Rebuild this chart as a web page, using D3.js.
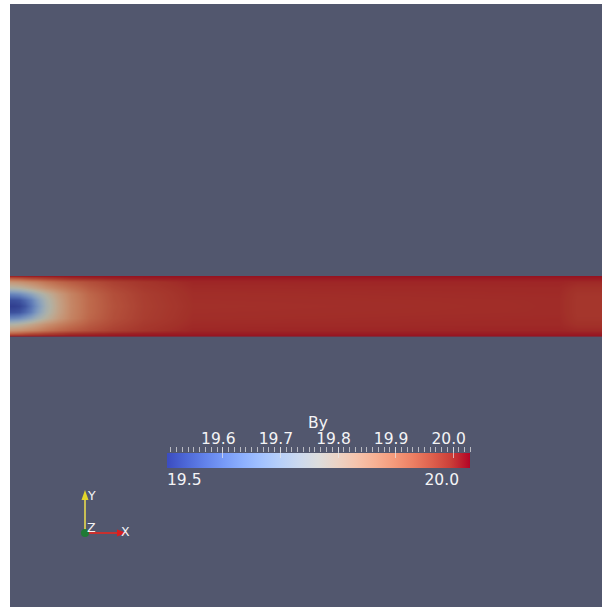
<!DOCTYPE html>
<html>
<head>
<meta charset="utf-8">
<script src="https://cdn.jsdelivr.net/npm/d3@7"></script>
<style>
  html, body { margin: 0; padding: 0; background: #ffffff; }
  svg { display: block; }
  text { font-family: "DejaVu Sans", sans-serif; fill: #f4f4f6; }
</style>
</head>
<body>
<svg id="chart" width="602" height="607"></svg>
<script>
// Channel coordinates: x along the channel (in channel widths), y across it (0 = top wall, 1 = bottom wall)
const fieldX = [0, 0.08, 0.16, 0.25, 0.35, 0.45, 0.6, 0.8, 1.0, 1.3, 1.7, 2.2, 3, 9.0, 9.3, 9.7];
const fieldY = [0, 0.05, 0.1, 0.2, 0.3, 0.4, 0.5, 0.6, 0.7, 0.8, 0.9, 0.95, 1];

// By sampled on the fieldY x fieldX grid (one row per fieldY entry)
const byWall   = [20.02, 20.02, 20.02, 20.02, 20.02, 20.02, 20.02, 20.02, 20.02, 20.02, 20.02, 20.02, 20.02, 20.02, 20.02, 20.02];
const byNear   = [19.93, 19.935, 19.94, 19.95, 19.96, 19.965, 19.975, 19.985, 19.995, 20.0, 20.006, 20.01, 20.012, 20.012, 20.012, 20.012];
const byRow010 = [19.85, 19.855, 19.86, 19.87, 19.88, 19.89, 19.91, 19.93, 19.945, 19.962, 19.98, 19.993, 20.005, 20.006, 20.003, 20.003];
const byRow020 = [19.76, 19.765, 19.775, 19.79, 19.81, 19.83, 19.86, 19.89, 19.915, 19.945, 19.97, 19.988, 20.002, 20.003, 19.997, 19.997];
const byRow030 = [19.62, 19.625, 19.635, 19.66, 19.69, 19.73, 19.78, 19.84, 19.885, 19.93, 19.962, 19.983, 20.0, 20.002, 19.993, 19.993];
const byRow040 = [19.53, 19.532, 19.54, 19.57, 19.61, 19.67, 19.75, 19.825, 19.88, 19.925, 19.96, 19.982, 19.999, 20.001, 19.992, 19.992];
const byMid    = [19.505, 19.508, 19.515, 19.54, 19.59, 19.65, 19.74, 19.82, 19.878, 19.925, 19.958, 19.981, 19.998, 20.001, 19.992, 19.992];
const fieldBy = [byWall, byNear, byRow010, byRow020, byRow030, byRow040, byMid,
                 byRow040, byRow030, byRow020, byRow010, byNear, byWall];

// Colour legend
const legendTitle = "By";
const legendRange = [19.504, 20.03];
const legendTicks = [19.6, 19.7, 19.8, 19.9, 20.0];
const legendRangeLabels = ["19.5", "20.0"];

// Cool-to-warm diverging map (position in [0,1] -> rgb)
const coolWarmPos = [0, 0.0625, 0.125, 0.1875, 0.25, 0.3125, 0.375, 0.4375, 0.5,
                     0.5625, 0.625, 0.6875, 0.75, 0.8125, 0.875, 0.9375, 1];
const coolWarmRGB = ["rgb(59,76,192)", "rgb(77,104,215)", "rgb(98,130,234)", "rgb(119,154,247)",
                     "rgb(141,176,254)", "rgb(163,194,255)", "rgb(184,208,249)", "rgb(204,217,238)",
                     "rgb(221,221,221)", "rgb(236,211,197)", "rgb(245,196,173)", "rgb(247,177,148)",
                     "rgb(244,154,123)", "rgb(236,127,99)", "rgb(222,96,77)", "rgb(203,62,56)",
                     "rgb(180,4,38)"];

const W = 602, H = 607;
const svg = d3.select("#chart");

// view background
svg.append("rect").attr("x", 10).attr("y", 4).attr("width", W - 10).attr("height", H - 4)
  .attr("fill", "#52576e");

const valueToT = d3.scaleLinear().domain(legendRange).range([0, 1]).clamp(true);
const tToColor = d3.scaleLinear().domain(coolWarmPos).range(coolWarmRGB).interpolate(d3.interpolateRgb);
const colorOf = v => tToColor(valueToT(v));

// ---- channel surface ----
const xScale = d3.scaleLinear().domain([0, 9.7]).range([10, 602]);
const yScale = d3.scaleLinear().domain([0, 1]).range([276, 336.6]);

const px0 = Math.round(xScale.range()[0]), px1 = Math.round(xScale.range()[1]);
const py0 = Math.floor(yScale.range()[0]), py1 = Math.ceil(yScale.range()[1]);
const cw = px1 - px0, ch = py1 - py0;

const rowScales = fieldBy.map(row => d3.scaleLinear().domain(fieldX).range(row).clamp(true));
const shade = [0.8, 0.8, 0.74]; // warm key light on the surface (r, g, b)

const canvas = document.createElement("canvas");
canvas.width = cw; canvas.height = ch;
const ctx = canvas.getContext("2d");
const img = ctx.createImageData(cw, ch);
for (let i = 0; i < cw; i++) {
  const xv = xScale.invert(px0 + i + 0.5);
  const column = rowScales.map(s => s(xv));
  const colScale = d3.scaleLinear().domain(fieldY).range(column).clamp(true);
  for (let j = 0; j < ch; j++) {
    const yTop = py0 + j, yBot = py0 + j + 1;
    // pixel coverage by the surface (for the fractional bottom edge)
    const cover = Math.max(0, Math.min(yBot, yScale.range()[1]) - Math.max(yTop, yScale.range()[0]));
    const yv = Math.min(1, Math.max(0, yScale.invert(py0 + j + 0.5)));
    const c = d3.rgb(colorOf(colScale(yv)));
    const k = (j * cw + i) * 4;
    img.data[k] = c.r * shade[0];
    img.data[k + 1] = c.g * shade[1];
    img.data[k + 2] = c.b * shade[2];
    img.data[k + 3] = Math.round(255 * Math.min(1, cover));
  }
}
ctx.putImageData(img, 0, 0);
svg.append("image")
  .attr("x", px0).attr("y", py0).attr("width", cw).attr("height", ch)
  .attr("preserveAspectRatio", "none")
  .attr("href", canvas.toDataURL());

// ---- scalar bar ----
const barX0 = 167, barX1 = 470, barY = 453, barH = 15;
const legendScale = d3.scaleLinear().domain(legendRange).range([barX0, barX1]);

const grad = svg.append("defs").append("linearGradient").attr("id", "coolwarm")
  .attr("x1", "0%").attr("x2", "100%").attr("y1", "0%").attr("y2", "0%");
grad.selectAll("stop").data(coolWarmPos).join("stop")
  .attr("offset", d => (d * 100) + "%")
  .attr("stop-color", (d, i) => coolWarmRGB[i]);

svg.append("rect").attr("x", barX0).attr("y", barY).attr("width", barX1 - barX0).attr("height", barH)
  .attr("fill", "url(#coolwarm)");

const minorTicks = d3.range(Math.ceil(legendRange[0] * 100), Math.floor(legendRange[1] * 100) + 1)
  .map(d => d / 100);
svg.append("g").selectAll("line").data(minorTicks).join("line")
  .attr("x1", d => Math.round(legendScale(d)) + 0.5).attr("x2", d => Math.round(legendScale(d)) + 0.5)
  .attr("y1", 447).attr("y2", 452)
  .attr("stroke", "#b9bac2").attr("stroke-width", 1);

svg.append("g").selectAll("line").data(legendTicks).join("line")
  .attr("x1", d => Math.round(legendScale(d)) + 0.5).attr("x2", d => Math.round(legendScale(d)) + 0.5)
  .attr("y1", 447).attr("y2", 458)
  .attr("stroke", "#e6e6ea").attr("stroke-opacity", 0.7).attr("stroke-width", 1);

svg.append("g").selectAll("text").data(legendTicks).join("text")
  .attr("x", d => legendScale(d) - 4).attr("y", 444)
  .attr("text-anchor", "middle").attr("font-size", 15.5)
  .text(d => d3.format(".1f")(d));

svg.append("text").attr("x", 318).attr("y", 428).attr("text-anchor", "middle")
  .attr("font-size", 15.5).text(legendTitle);

svg.append("text").attr("x", barX0).attr("y", 485).attr("text-anchor", "start")
  .attr("font-size", 15.5).text(legendRangeLabels[0]);
svg.append("text").attr("x", 459).attr("y", 485).attr("text-anchor", "end")
  .attr("font-size", 15.5).text(legendRangeLabels[1]);

// ---- orientation axes ----
const ox = 85, oy = 533;
const tri = svg.append("g");
tri.append("line").attr("x1", ox).attr("y1", oy).attr("x2", ox).attr("y2", 499)
  .attr("stroke", "#c9bf55").attr("stroke-width", 2);
tri.append("path").attr("d", `M${ox - 3.5},${500} L${ox + 3.5},${500} L${ox},${490} Z`).attr("fill", "#e3d62a");
tri.append("line").attr("x1", ox).attr("y1", oy).attr("x2", 118).attr("y2", oy)
  .attr("stroke", "#c8302e").attr("stroke-width", 2);
tri.append("path").attr("d", `M117,${oy - 3.5} L117,${oy + 3.5} L127,${oy} Z`).attr("fill", "#d91e1e");
tri.append("circle").attr("cx", ox).attr("cy", oy).attr("r", 4).attr("fill", "#1f7a35");
tri.append("text").attr("x", 88).attr("y", 500).attr("font-size", 12.5).text("Y");
tri.append("text").attr("x", 87).attr("y", 532).attr("font-size", 12.5).text("Z");
tri.append("text").attr("x", 121).attr("y", 536).attr("font-size", 12.5).text("X");
</script>
</body>
</html>
